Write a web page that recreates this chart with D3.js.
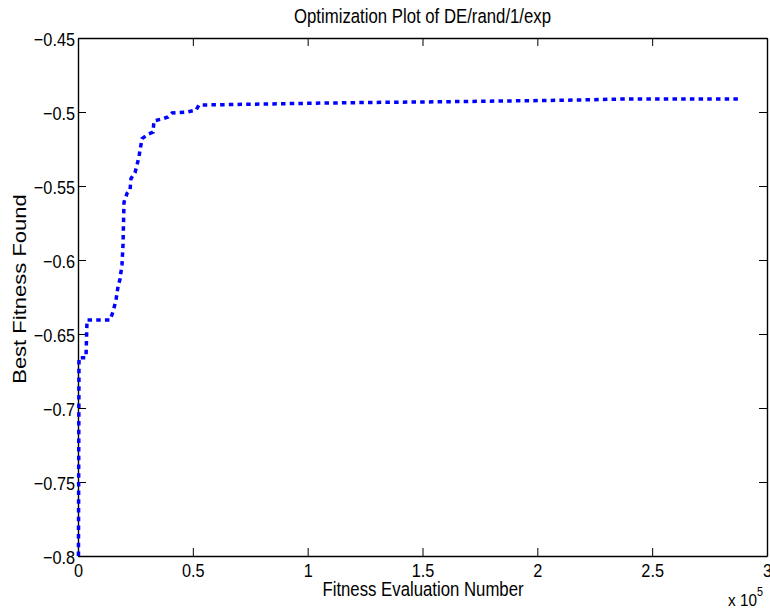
<!DOCTYPE html>
<html>
<head>
<meta charset="utf-8">
<script src="https://cdn.jsdelivr.net/npm/d3@7"></script>
<style>
  body { margin: 0; background: #fff; }
  text { font-family: "Liberation Sans", Arial, Helvetica, sans-serif; fill: #000; }
</style>
</head>
<body>
<div id="chart"></div>
<script>
// best-so-far trace
const evals = [200, 435, 3480, 3920, 13930, 15240, 16550, 17420, 18290, 19160, 19590, 20030,
  21340, 22640, 23080, 24820, 25690, 26560, 27870, 30480, 32660, 33090, 36570, 39190,
  40930, 47460, 51380, 52680, 105370, 135840, 151950, 209860, 239040, 288240];
const fitness = [-0.8, -0.666, -0.666, -0.6405, -0.6405, -0.635, -0.627, -0.618, -0.613, -0.603, -0.59, -0.561,
  -0.555, -0.553, -0.545, -0.541, -0.536, -0.53, -0.518, -0.515, -0.5135, -0.506, -0.5047, -0.5034,
  -0.5007, -0.5, -0.4987, -0.4953, -0.494, -0.4934, -0.4932, -0.4921, -0.4912, -0.4912];

const xTicks = [0, 50000, 100000, 150000, 200000, 250000, 300000];
const xTickLabels = ["0", "0.5", "1", "1.5", "2", "2.5", "3"];
const yTicks = [-0.8, -0.75, -0.7, -0.65, -0.6, -0.55, -0.5, -0.45];
const yTickLabels = ["\u22120.8", "\u22120.75", "\u22120.7", "\u22120.65", "\u22120.6", "\u22120.55", "\u22120.5", "\u22120.45"];

const margin = {top: 38, right: 3, bottom: 57, left: 78},
    width = 770 - margin.left - margin.right,
    height = 613 - margin.top - margin.bottom;

const svgRoot = d3.select("#chart")
  .append("svg")
    .attr("width", 770)
    .attr("height", 613);

const svg = svgRoot.append("g")
    .attr("transform", `translate(${margin.left},${margin.top})`);

const x = d3.scaleLinear().domain([0, 300000]).range([0, width]);
const y = d3.scaleLinear().domain([-0.8, -0.45]).range([height, 0]);

// the text in the picture is squeezed sideways, so scale it a bit
const sx = 0.88;

// bottom axis with labels
svg.append("g")
    .attr("transform", `translate(0,${height})`)
    .call(d3.axisBottom(x).tickValues(xTicks).tickFormat((d, i) => xTickLabels[i])
      .tickSizeInner(-8).tickSizeOuter(0))
    .call(g => g.selectAll("text")
      .attr("y", null).attr("dy", null)
      .attr("transform", `translate(0,21) scale(${sx},1)`)
      .style("font-size", "18.5px"));

// left axis with labels
svg.append("g")
    .call(d3.axisLeft(y).tickValues(yTicks).tickFormat((d, i) => yTickLabels[i])
      .tickSizeInner(-8).tickSizeOuter(0))
    .call(g => g.selectAll("text")
      .attr("x", null).attr("dy", null)
      .attr("transform", `translate(-3,7) scale(${sx},1)`)
      .style("font-size", "18.5px"));

// top and right, ticks only
svg.append("g")
    .call(d3.axisTop(x).tickValues(xTicks).tickFormat("").tickSizeInner(-8).tickSizeOuter(0));
svg.append("g")
    .attr("transform", `translate(${width},0)`)
    .call(d3.axisRight(y).tickValues(yTicks).tickFormat("").tickSizeInner(-8).tickSizeOuter(0));

svg.selectAll(".domain").attr("stroke", "#000").attr("stroke-width", 1.4);
svg.selectAll(".tick line").attr("stroke", "#000").attr("stroke-width", 1);

// the trace
const line = d3.line()
    .x((d, i) => x(evals[i]))
    .y(d => y(d));

svg.append("path")
    .datum(fitness)
    .attr("fill", "none")
    .attr("stroke", "#0000ff")
    .attr("stroke-width", 3.5)
    .attr("stroke-dasharray", "4.5,4.2")
    .attr("d", line);

// title and axis labels
svgRoot.append("text")
    .attr("text-anchor", "middle")
    .attr("transform", `translate(${margin.left + width / 2},23) scale(0.86,1)`)
    .style("font-size", "19.5px")
    .text("Optimization Plot of DE/rand/1/exp");

svgRoot.append("text")
    .attr("text-anchor", "middle")
    .attr("transform", `translate(${margin.left + width / 2 + 0.5},596) scale(0.86,1)`)
    .style("font-size", "19.5px")
    .text("Fitness Evaluation Number");

svgRoot.append("text")
    .attr("text-anchor", "middle")
    .attr("transform", "translate(26,289) rotate(-90) scale(1.19,1)")
    .style("font-size", "18.5px")
    .text("Best Fitness Found");

// exponent note under the x axis
const expo = svgRoot.append("text")
    .attr("transform", "translate(728,606) scale(0.9,1)")
    .style("font-size", "17px");
expo.append("tspan").text("x 10");
expo.append("tspan").attr("dy", -10).style("font-size", "12px").text("5");
</script>
</body>
</html>
